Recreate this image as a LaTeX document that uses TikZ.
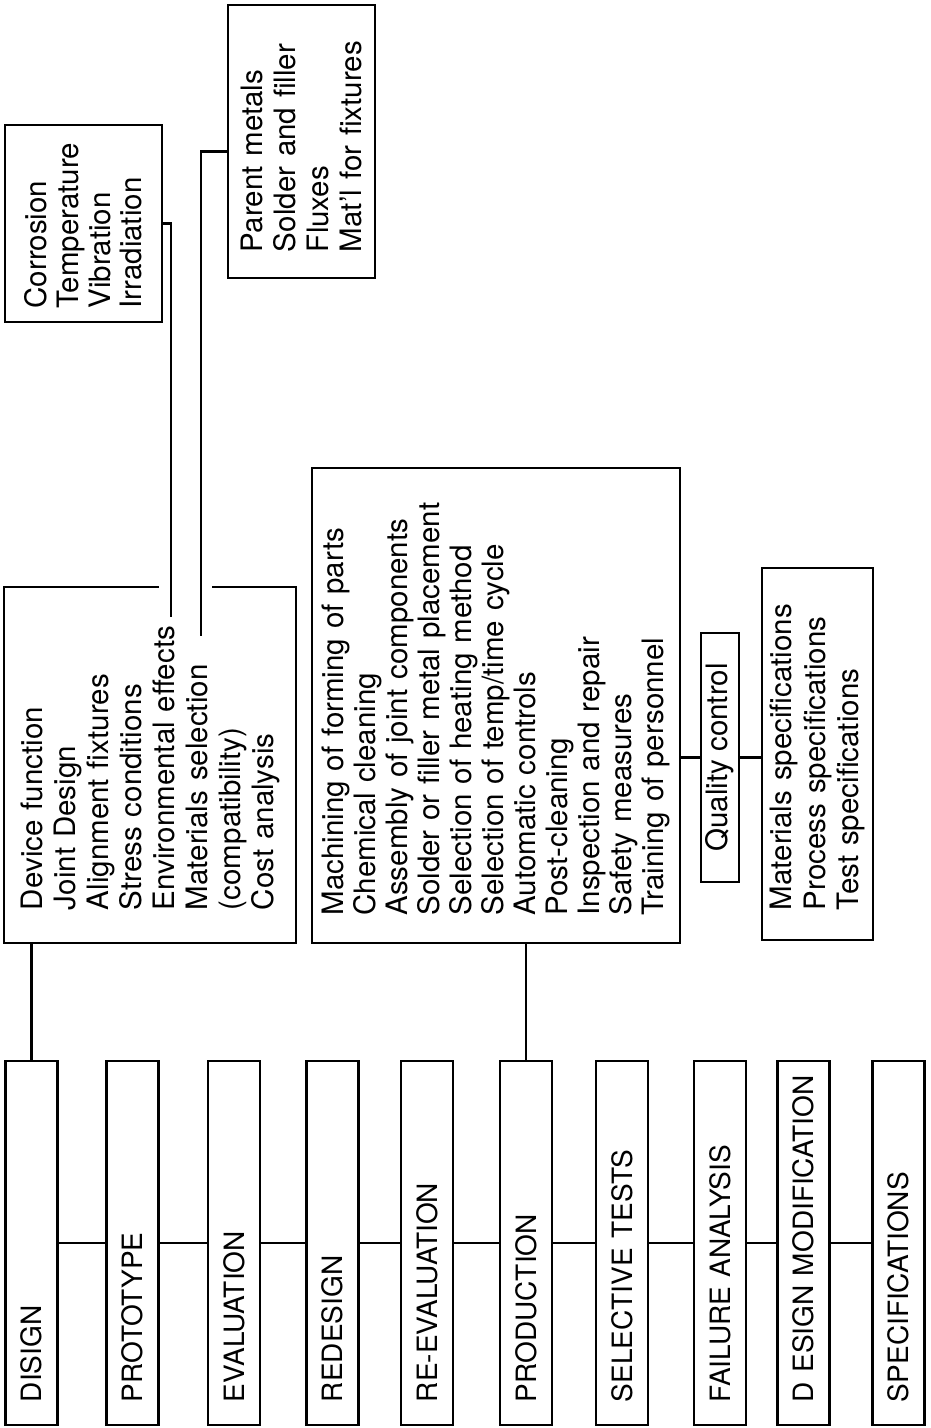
\documentclass[tikz,border=0pt]{standalone}
\usepackage{fontspec}
\setmainfont{TeX Gyre Heros}
\usetikzlibrary{calc}
\tikzset{
	stagestyle/.style={rectangle,draw=black,rotate=90,minimum height=52pt,text width=318pt,inner xsep=23pt,inner ysep=0pt,align=left,font=\fontsize{28pt}{30pt}\selectfont,execute at begin node={\hyphenpenalty=10000}},
	liststyle/.style={rectangle,draw=black,rotate=90,inner ysep=0pt,align=left,font=\fontsize{29.5pt}{33pt}\selectfont,execute at begin node={\hyphenpenalty=10000}},
	qcstyle/.style={rectangle,draw=black,rotate=90,inner sep=0pt,minimum width=249pt,minimum height=38pt,font=\fontsize{29.5pt}{33pt}\selectfont}
}
\begin{document}
\begin{tikzpicture}[x=1pt,y=1pt,line width=2.2pt]
		\useasboundingbox (0,0) rectangle (930,-1428);
		\node[stagestyle] (disign) at (31.5,-1243) {DISIGN};
		\node[stagestyle] (prototype) at (132.5,-1243) {PROTOTYPE};
		\node[stagestyle] (evaluation) at (234,-1243) {EVALUATION};
		\node[stagestyle] (redesign) at (332.5,-1243) {REDESIGN};
		\node[stagestyle] (reevaluation) at (427,-1243) {RE-EVALUATION};
		\node[stagestyle] (production) at (526,-1243) {PRODUCTION};
		\node[stagestyle] (selective) at (622,-1243) {SELECTIVE~TESTS};
		\node[stagestyle] (failure) at (720,-1243) {FAILURE~ANALYSIS};
		\node[stagestyle] (modification) at (803.5,-1243) {D~ESIGN~MODIFICATION};
		\node[stagestyle] (specifications) at (898.5,-1243) {SPECIFICATIONS};
		\draw (disign.south)--(prototype.north);
		\draw (prototype.south)--(evaluation.north);
		\draw (evaluation.south)--(redesign.north);
		\draw (redesign.south)--(reevaluation.north);
		\draw (reevaluation.south)--(production.north);
		\draw (production.south)--(selective.north);
		\draw (selective.south)--(failure.north);
		\draw (failure.south)--(modification.north);
		\draw (modification.south)--(specifications.north);
		% design box, its top edge is open where the two lines pass
		\node[liststyle,draw=none,minimum height=290pt,text width=290pt,inner xsep=32pt] (design) at (150,-765) {Device function\\Joint Design\\Alignment fixtures\\Stress conditions\\Environmental effects\\Materials selection\\(compatibility)\\Cost analysis};
		\coordinate (gapleft) at ($(design.north east)+(155,0)$);
		\coordinate (gapright) at ($(design.north east)+(208,0)$);
		\draw (gapleft)--(design.north east)--(design.north west)--(design.south west)--(design.south east)--(gapright);
		\node[liststyle,minimum height=368pt,text width=420pt,inner xsep=27.5pt,font=\fontsize{29.5pt}{32pt}\selectfont] (process) at (496,-705.5) {Machining of forming of parts\\Chemical cleaning\\Assembly of joint components\\Solder or filler metal placement\\Selection of heating method\\Selection of temp/time cycle\\Automatic controls\\Post-cleaning\\Inspection and repair\\Safety measures\\Training of personnel};
		\node[liststyle,minimum height=157pt,text width=170pt,inner xsep=13.5pt,font=\fontsize{29.5pt}{31.7pt}\selectfont] (effects) at (83.5,-223.5) {Corrosion\\Temperature\\Vibration\\Irradiation};
		\node[liststyle,minimum height=147pt,text width=221pt,inner xsep=26pt] (materials) at (301.5,-141.5) {Parent metals\\Solder and filler\\Fluxes\\Mat'l for fixtures};
		\node[qcstyle] (quality) at (720,-757.5) {Quality control};
		\node[liststyle,minimum height=111pt,text width=312pt,inner xsep=30pt,font=\fontsize{29.5pt}{33.5pt}\selectfont] (specs) at (817.5,-754) {Materials specifications\\Process specifications\\Test specifications};
		\coordinate (envend) at (171,-617);
		\coordinate (matend) at (201,-636);
		\draw (disign.east)--(disign.east |- design.west);
		\draw (production.east)--(production.east |- process.west);
		\draw (quality.north)--(quality.north -| process.south);
		\draw (quality.south)--(quality.south -| specs.north);
		\draw (effects.south) -| (envend);
		\draw ([yshift=-10pt]materials.north) -| (matend);
\end{tikzpicture}
\end{document}
